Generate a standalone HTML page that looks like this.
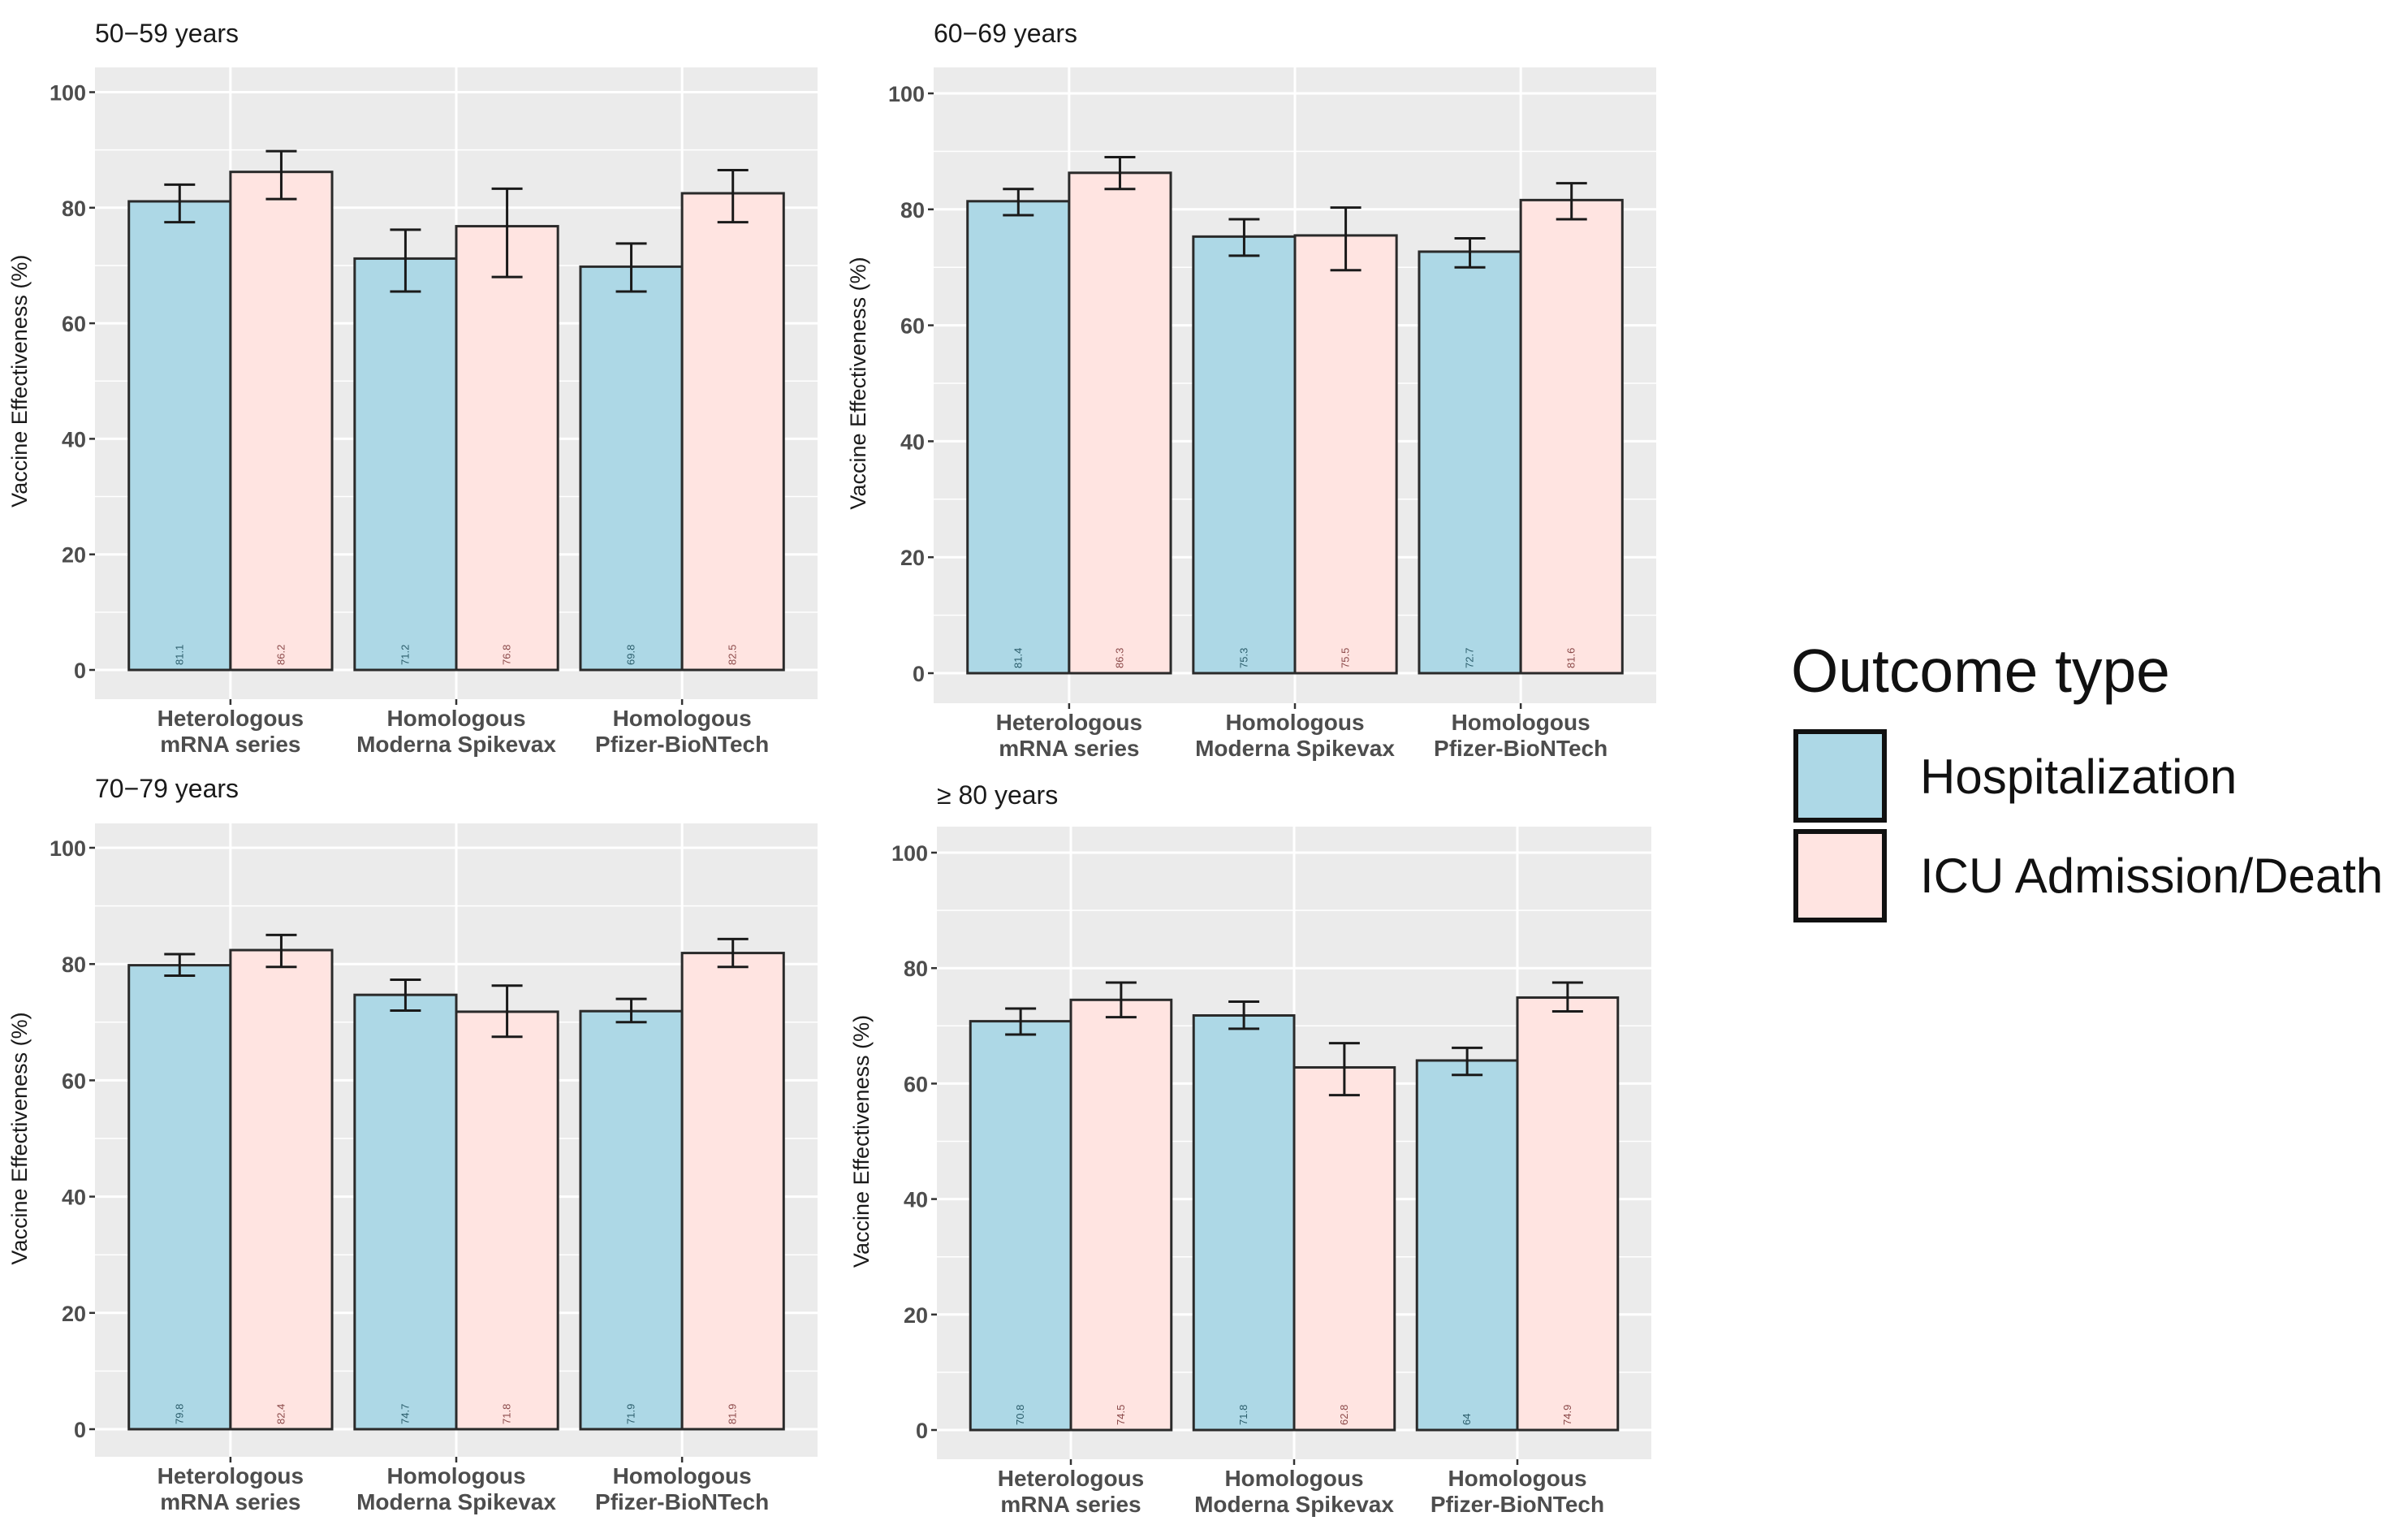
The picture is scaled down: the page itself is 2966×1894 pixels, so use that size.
<!DOCTYPE html>
<html><head><meta charset="utf-8"><style>
html,body{margin:0;padding:0;background:#fff;}
svg{display:block;font-family:"Liberation Sans",Arial,sans-serif;}
</style></head><body>
<svg id="chart" width="2966" height="1894" viewBox="0 0 2966 1894" xmlns="http://www.w3.org/2000/svg">
<g id="panels"></g>
<g id="legend">
  <text x="2206" y="852" font-size="75" fill="#111">Outcome type</text>
  <rect x="2212" y="901" width="109" height="109" fill="#add8e6" stroke="#111" stroke-width="6"/>
  <rect x="2212" y="1024" width="109" height="109" fill="#ffe4e1" stroke="#111" stroke-width="6"/>
  <text x="2365" y="977" font-size="60" fill="#111">Hospitalization</text>
  <text x="2365" y="1099" font-size="60" fill="#111">ICU Admission/Death</text>
</g>
</svg>
<script>
const categories = [["Heterologous","mRNA series"],["Homologous","Moderna Spikevax"],["Homologous","Pfizer-BioNTech"]];
const panelTitles = ["50\u221259 years","60\u221269 years","70\u221279 years","\u2265 80 years"];
const hospValues = [[81.1,71.2,69.8],[81.4,75.3,72.7],[79.8,74.7,71.9],[70.8,71.8,64]];
const icuValues = [[86.2,76.8,82.5],[86.3,75.5,81.6],[82.4,71.8,81.9],[74.5,62.8,74.9]];
const hospLow = [[77.5,65.5,65.5],[79,72,70],[78,72,70],[68.5,69.5,61.5]];
const hospHigh = [[84,76.2,73.8],[83.5,78.3,75],[81.7,77.3,74],[73,74.2,66.2]];
const icuLow = [[81.5,68,77.5],[83.5,69.5,78.3],[79.5,67.5,79.5],[71.5,58,72.5]];
const icuHigh = [[89.8,83.3,86.5],[89,80.3,84.5],[85,76.3,84.3],[77.5,67,77.5]];
const yTicks = [0,20,40,60,80,100];

const layout = [
 {left:117,right:1007,top:83,bottom:861,y0:825,y100:113.5,titleY:52},
 {left:1150,right:2040,top:83,bottom:866,y0:829,y100:115,titleY:52},
 {left:117,right:1007,top:1014,bottom:1794,y0:1760,y100:1044,titleY:982},
 {left:1154,right:2034,top:1018,bottom:1797,y0:1761,y100:1050,titleY:990}
];
const NS="http://www.w3.org/2000/svg";
function mk(tag,attrs,parent){const e=document.createElementNS(NS,tag);for(const k in attrs)e.setAttribute(k,attrs[k]);parent.appendChild(e);return e;}
const root=document.getElementById('panels');
layout.forEach((L,p)=>{
  const g=mk('g',{},root);
  
  
  const unit=(L.right-L.left)/3.2;
  const xC=i=>L.left+unit*(0.6+i);
  const yS=v=>L.y0+(L.y100-L.y0)*v/100;
  const bg=mk('rect',{x:L.left,y:L.top,width:L.right-L.left,height:L.bottom-L.top,fill:'#ebebeb'},g);
  
  
  for(let v=10;v<=100;v+=20){mk('line',{x1:L.left,x2:L.right,y1:yS(v),y2:yS(v),stroke:'#fff','stroke-width':1.5},g);}
  yTicks.forEach(v=>{
    mk('line',{x1:L.left,x2:L.right,y1:yS(v),y2:yS(v),stroke:'#fff','stroke-width':3},g);
    mk('line',{x1:L.left-7,x2:L.left,y1:yS(v),y2:yS(v),stroke:'#333','stroke-width':2.5},g);
    const t=mk('text',{x:L.left-11,y:yS(v)+10,'text-anchor':'end','font-size':27,fill:'#4d4d4d','font-weight':'bold'},g);
    t.textContent=v;
    
    
  });
  categories.forEach((c,i)=>{
    mk('line',{x1:xC(i),x2:xC(i),y1:L.top,y2:L.bottom,stroke:'#fff','stroke-width':3},g);
    mk('line',{x1:xC(i),x2:xC(i),y1:L.bottom,y2:L.bottom+7,stroke:'#333','stroke-width':2.5},g);
    c.forEach((line,j)=>{
      const t=mk('text',{x:xC(i),y:L.bottom+33+j*32,'text-anchor':'middle','font-size':28,'font-weight':'bold',fill:'#4d4d4d'},g);
      t.textContent=line;
      
      
    });
  });
  const bw=unit*0.45;
  const series=[[hospValues,hospLow,hospHigh,'#add8e6','#2b5d6b','hosp'],[icuValues,icuLow,icuHigh,'#ffe4e1','#8b4a4a','icu']];
  series.forEach((s,si)=>{
    categories.forEach((c,i)=>{
      const v=s[0][p][i];
      const x=xC(i)-bw+si*bw;
      const r=mk('rect',{x:x,y:yS(v),width:bw,height:yS(0)-yS(v),fill:s[3],stroke:'#2a2a2a','stroke-width':3},g);
      
      
      const cx=x+bw/2;
      const lo=yS(s[1][p][i]), hi=yS(s[2][p][i]);
      const eb=mk('path',{d:`M${cx-19},${hi}H${cx+19}M${cx},${hi}V${lo}M${cx-19},${lo}H${cx+19}`,stroke:'#1a1a1a','stroke-width':3,fill:'none'},g);
      
      
      const lab=mk('text',{x:0,y:0,'font-size':13,fill:s[4],'text-anchor':'start',transform:`translate(${cx+4},${yS(0)-6}) rotate(-90)`},g);
      lab.textContent=v;
      
      
    });
  });
  const title=mk('text',{x:L.left,y:L.titleY,'font-size':32,fill:'#1a1a1a'},g);
  title.textContent=panelTitles[p];
  
  
  const cy=(L.y0+L.y100)/2;
  const ax=L.left-84;
  const yt=mk('text',{x:0,y:0,'font-size':27,fill:'#1a1a1a','text-anchor':'middle',transform:`translate(${ax},${cy}) rotate(-90)`},g);
  yt.textContent='Vaccine Effectiveness (%)';
  
  
});
</script>
</body></html>
